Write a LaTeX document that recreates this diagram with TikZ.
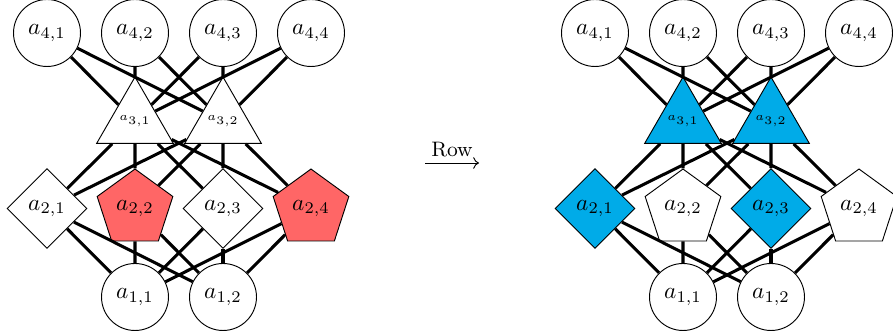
\documentclass[tikz,border=0pt]{standalone}
\usetikzlibrary{shapes.geometric,arrows.meta}
\definecolor{redfill}{RGB}{255,102,102}
\definecolor{bluefill}{RGB}{0,171,232}
\tikzset{
  circ/.style={circle,draw,thin,fill=white,minimum size=28.8pt,inner sep=0pt},
  tri/.style={regular polygon,regular polygon sides=3,draw,thin,fill=white,minimum size=37.2pt,inner sep=0pt,font=\tiny},
  pent/.style={regular polygon,regular polygon sides=5,draw,thin,fill=white,minimum size=34.2pt,inner sep=0pt},
  diam/.style={diamond,draw,thin,fill=white,minimum size=34.4pt,inner sep=0pt,aspect=1},
  edge/.style={line width=1.3pt},
}
\begin{document}
\begin{tikzpicture}[x=0.43pt,y=-0.43pt]
\useasboundingbox (0,0) rectangle (893,333);
\foreach \s/\ox/\fc in {L/0/redfill,R/548/white}{
  \begin{scope}[xshift=\ox*0.43pt]
  \node[circ] (\s41) at (47,33) {$a_{4,1}$};
  \node[circ] (\s42) at (135,33) {$a_{4,2}$};
  \node[circ] (\s43) at (223,33) {$a_{4,3}$};
  \node[circ] (\s44) at (311,33) {$a_{4,4}$};
  \node[circ] (\s11) at (135,297) {$a_{1,1}$};
  \node[circ] (\s12) at (223,297) {$a_{1,2}$};
  \end{scope}
}
% left graph
\node[tri] (L31) at (135,121.3) {$a_{3,1}$};
\node[tri] (L32) at (223,121.3) {$a_{3,2}$};
\node[diam] (L21) at (47,208.5) {$a_{2,1}$};
\node[pent,fill=redfill] (L22) at (135,208.8) {$a_{2,2}$};
\node[diam] (L23) at (223,208.5) {$a_{2,3}$};
\node[pent,fill=redfill] (L24) at (311,208.8) {$a_{2,4}$};
% right graph
\node[tri,fill=bluefill] (R31) at (683,121.3) {$a_{3,1}$};
\node[tri,fill=bluefill] (R32) at (771,121.3) {$a_{3,2}$};
\node[diam,fill=bluefill] (R21) at (595,208.5) {$a_{2,1}$};
\node[pent] (R22) at (683,208.8) {$a_{2,2}$};
\node[diam,fill=bluefill] (R23) at (771,208.5) {$a_{2,3}$};
\node[pent] (R24) at (859,208.8) {$a_{2,4}$};
% edges
\foreach \s in {L,R}{
  \foreach \a in {1,2,3,4}{
    \foreach \b in {1,2}{
      \draw[edge] (\s4\a) -- (\s3\b);
      \draw[edge] (\s3\b) -- (\s2\a);
      \draw[edge] (\s2\a) -- (\s1\b);
    }
  }
}
% arrow
\node[font=\small,inner sep=0pt] (row) at (452,150) {Row};
\coordinate (arrS) at (425,163);
\coordinate (arrE) at (479,163);
\draw[thin,-{To[length=2.5pt,width=5pt]}] (arrS) -- (arrE);
\end{tikzpicture}
\end{document}
